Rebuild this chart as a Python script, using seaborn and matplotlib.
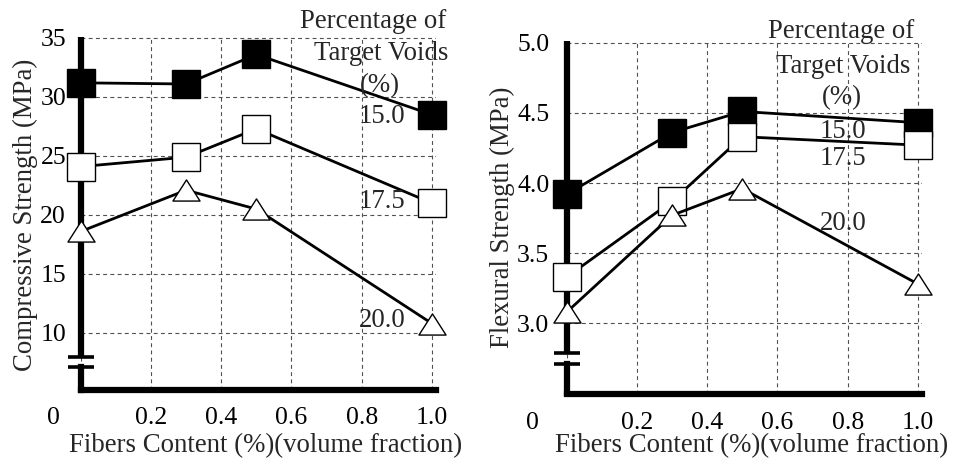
import numpy as np
import pandas as pd
import matplotlib
matplotlib.use("Agg")
import matplotlib.pyplot as plt
import matplotlib.transforms as mtransforms
from matplotlib.path import Path
import seaborn as sns

# ---------------- data ----------------
fibers = [0.0, 0.3, 0.5, 1.0]
void_levels = ["15.0", "17.5", "20.0"]
compressive_15 = [31.2, 31.1, 33.6, 28.5]
compressive_175 = [24.1, 24.9, 27.3, 21.0]
compressive_20 = [18.6, 22.1, 20.5, 10.8]
flexural_15 = [3.92, 4.36, 4.51, 4.43]
flexural_175 = [3.33, 3.87, 4.33, 4.27]
flexural_20 = [3.08, 3.77, 3.96, 3.28]
x_ticks = [0, 0.2, 0.4, 0.6, 0.8, 1.0]
x_ticklabels = ["0", "0.2", "0.4", "0.6", "0.8", "1.0"]
comp_ticks = [10, 15, 20, 25, 30, 35]
comp_ticklabels = ["10", "15", "20", "25", "30", "35"]
flex_ticks = [3.0, 3.5, 4.0, 4.5, 5.0]
flex_ticklabels = ["3.0", "3.5", "4.0", "4.5", "5.0"]
header = ["Percentage of", "Target Voids", "(%)"]

sns.set_style("white")
plt.rcParams["font.family"] = ["Liberation Serif", "DejaVu Serif"]
plt.rcParams["font.size"] = 18

fig = plt.figure(figsize=(9.59, 4.66), dpi=100)
W, H = 959.0, 466.0

tri = Path([(0, 0.78), (-1, -0.78), (1, -0.78), (0, 0.78)],
           [Path.MOVETO, Path.LINETO, Path.LINETO, Path.CLOSEPOLY])

styles = [
    dict(marker="s", markerfacecolor="black", markersize=19.5),
    dict(marker="s", markerfacecolor="white", markersize=19.5),
    dict(marker=tri, markerfacecolor="white", markersize=19.5),
]

LAB = 19.3

panels = [
    dict(rect=(80.7, 36.8, 435.5, 389.6), ylim=(5.2, 35.1),
         series=[compressive_15, compressive_175, compressive_20],
         yticks=comp_ticks, yticklabels=comp_ticklabels,
         ylabel="Compressive Strength (MPa)", breaks=(7.14, 7.99),
         ylab_xy=(-0.12, 0.495), xlab_xy=(0.522, -0.124), ypad=10.5,
         xpad=12.5, zero_shift=-27.7,
         head=[(0.832, 28), (0.855, 60), (0.852, 92)],
         lab=[(0.857, 123), (0.857, 208), (0.857, 327)],
         y_of_px=lambda p: 35 - (p - 38) / 11.8),
    dict(rect=(566.7, 41.3, 921.5, 393.5), ylim=(2.5, 5.01),
         series=[flexural_15, flexural_175, flexural_20],
         yticks=flex_ticks, yticklabels=flex_ticklabels,
         ylabel="Flexural Strength (MPa)", breaks=(2.708, 2.786),
         ylab_xy=(-0.146, 0.5), xlab_xy=(0.521, -0.113), ypad=12.5,
         xpad=13.5, zero_shift=-34.0,
         head=[(0.781, 38), (0.786, 73), (0.784, 104)],
         lab=[(0.786, 138), (0.786, 165), (0.786, 230)],
         y_of_px=lambda p: 5 - (p - 42.7) / 140.3),
]

for P in panels:
    l, t, r, b = P["rect"]
    ax = fig.add_axes([l / W, 1 - b / H, (r - l) / W, (b - t) / H])
    ax.set_xlim(0, 1.01)
    ax.set_ylim(*P["ylim"])

    for vals, st in zip(P["series"], styles):
        df = pd.DataFrame({"x": fibers, "y": vals})
        sns.lineplot(data=df, x="x", y="y", ax=ax, color="black",
                     linewidth=2.0, markeredgecolor="black",
                     markeredgewidth=1.0, clip_on=False, zorder=4, **st)

    ax.grid(True, linestyle=(0, (3.5, 3)), color="#505050", linewidth=0.8)
    ax.set_axisbelow(True)

    ax.set_xticks(x_ticks)
    ax.set_xticklabels(x_ticklabels)
    ax.set_yticks(P["yticks"])
    ax.set_yticklabels(P["yticklabels"])
    ax.tick_params(axis="both", direction="in", length=7, width=3.2,
                   color="black", labelsize=18.5, labelcolor="black")
    ax.tick_params(axis="x", pad=P["xpad"])
    ax.tick_params(axis="y", pad=P["ypad"])
    lbl0 = ax.get_xticklabels()[0]
    lbl0.set_transform(lbl0.get_transform() + mtransforms.ScaledTranslation(
        P["zero_shift"] / 100.0, 0, fig.dpi_scale_trans))

    for side in ["top", "right", "left"]:
        ax.spines[side].set_visible(False)
    ax.spines["bottom"].set_linewidth(4.5)
    ax.spines["bottom"].set_color("black")
    ax.spines["bottom"].set_capstyle("projecting")

    # left spine drawn in two pieces with axis-break marks
    bt = mtransforms.blended_transform_factory(ax.transAxes, ax.transData)
    y0, y1 = P["ylim"]
    lo, hi = P["breaks"]
    ax.plot([0, 0], [y0, lo], transform=bt, color="black", lw=4.5,
            solid_capstyle="projecting", clip_on=False, zorder=2.5)
    ax.plot([0, 0], [hi, y1], transform=bt, color="black", lw=4.5,
            solid_capstyle="butt", clip_on=False, zorder=2.5)
    hw = 13.0 / (r - l)
    for yy in (lo, hi):
        ax.plot([-hw, hw], [yy, yy], transform=bt, color="black", lw=2.6,
                solid_capstyle="butt", clip_on=False, zorder=2.5)

    ax.set_xlabel("Fibers Content (%)(volume fraction)", fontsize=LAB)
    ax.set_ylabel(P["ylabel"], fontsize=LAB)
    ax.xaxis.set_label_coords(*P["xlab_xy"])
    ax.yaxis.set_label_coords(*P["ylab_xy"])
    ax.xaxis.label.set_va("top")

    for (xx, py), txt in zip(P["head"], header):
        ax.text(xx, P["y_of_px"](py), txt, ha="center", va="baseline",
                fontsize=LAB, zorder=5, clip_on=False)
    for (xx, py), txt in zip(P["lab"], void_levels):
        ax.text(xx, P["y_of_px"](py), txt, ha="center", va="baseline",
                fontsize=LAB, zorder=5, clip_on=False)

fig.savefig("out.png", dpi=100)
